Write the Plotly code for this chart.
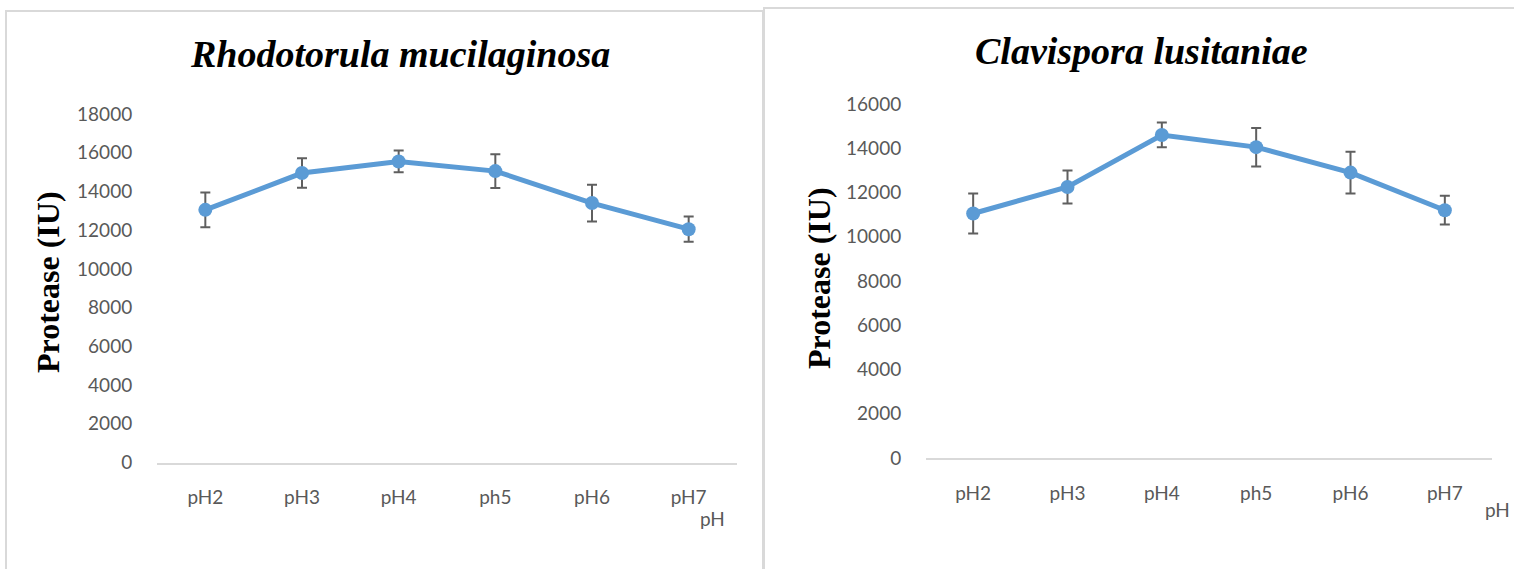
import plotly.graph_objects as go

W, H = 1514, 569

# Data: protease activity (IU) across pH, mean and standard error
ph_labels = ["pH2", "pH3", "pH4", "ph5", "pH6", "pH7"]

rhodo_title = "Rhodotorula mucilaginosa"
rhodo_vals = [13050, 14950, 15550, 15050, 13400, 12050]
rhodo_err = [900, 760, 560, 870, 950, 650]

clav_title = "Clavispora lusitaniae"
clav_vals = [11050, 12250, 14600, 14050, 12900, 11200]
clav_err = [900, 750, 560, 870, 940, 650]

left_ticks = list(range(0, 18001, 2000))
right_ticks = list(range(0, 16001, 2000))

BLUE = "#5b9bd5"
GREY_TXT = "#595959"
GREY_LINE = "#d9d9d9"
TICK_FONT = dict(family="Lato, Open Sans, sans-serif", size=19, color=GREY_TXT)


def px(x):
    return x / W


def py(y):
    return 1 - y / H


fig = go.Figure()

for vals, errs, xa, ya in [
    (rhodo_vals, rhodo_err, "x", "y"),
    (clav_vals, clav_err, "x2", "y2"),
]:
    fig.add_trace(go.Scatter(
        x=ph_labels, y=vals, xaxis=xa, yaxis=ya,
        mode="lines+markers",
        line=dict(color=BLUE, width=5),
        marker=dict(color=BLUE, size=14),
        error_y=dict(type="data", array=errs, visible=True,
                     color="#5f5f5f", thickness=2, width=5),
        showlegend=False,
    ))

axis_common = dict(showgrid=False, zeroline=False, fixedrange=True,
                   automargin=False)
x_axis_style = dict(type="category", range=[-0.5, 5.5], showline=True,
                    linecolor=GREY_LINE, linewidth=2, ticks="outside",
                    ticklen=17, tickcolor="rgba(0,0,0,0)", tickfont=TICK_FONT,
                    **axis_common)
y_axis_style = dict(tickformat="d", showline=False, ticks="outside",
                    ticklen=20, tickcolor="rgba(0,0,0,0)", tickfont=TICK_FONT,
                    **axis_common)

fig.update_layout(
    width=W, height=H, autosize=False,
    margin=dict(l=0, r=0, t=0, b=0, pad=0, autoexpand=False),
    paper_bgcolor="white", plot_bgcolor="white",
    xaxis=dict(domain=[px(157), px(737)], anchor="y", **x_axis_style),
    yaxis=dict(domain=[py(462.5), py(114)], anchor="x", range=[0, 18000],
               tickvals=left_ticks, **y_axis_style),
    xaxis2=dict(domain=[px(926), px(1492)], anchor="y2", **x_axis_style),
    yaxis2=dict(domain=[py(458), py(104)], anchor="x2", range=[0, 16000],
                tickvals=right_ticks, **y_axis_style),
)

# Panel frames
frame = dict(type="rect", xref="paper", yref="paper",
             line=dict(color=GREY_LINE, width=2), fillcolor="rgba(0,0,0,0)",
             layer="below")
fig.add_shape(x0=px(6), x1=px(763), y0=py(600), y1=py(11), **frame)
fig.add_shape(x0=px(764), x1=px(1530), y0=py(600), y1=py(8), **frame)

title_font = dict(family="Liberation Serif, Times New Roman, serif",
                  size=38, color="black")
ytitle_font = dict(family="Liberation Serif, Times New Roman, serif",
                   size=32, color="black")

annotations = [
    dict(text="<b><i>%s</i></b>" % rhodo_title, x=px(400), y=py(54)),
    dict(text="<b><i>%s</i></b>" % clav_title, x=px(1141), y=py(51)),
]
for a in annotations:
    a.update(xref="paper", yref="paper", showarrow=False, font=title_font,
             xanchor="center", yanchor="middle")

for xc, yc in [(48, 282), (819, 278)]:
    annotations.append(dict(
        text="<b>Protease (IU)</b>", x=px(xc), y=py(yc), xref="paper",
        yref="paper", showarrow=False, textangle=-90, font=ytitle_font,
        xanchor="center", yanchor="middle"))

for xc, yc in [(712, 518), (1497, 509)]:
    annotations.append(dict(
        text="pH", x=px(xc), y=py(yc), xref="paper", yref="paper",
        showarrow=False, font=TICK_FONT, xanchor="center", yanchor="middle"))

fig.update_layout(annotations=annotations)

fig.write_html("out.html")
